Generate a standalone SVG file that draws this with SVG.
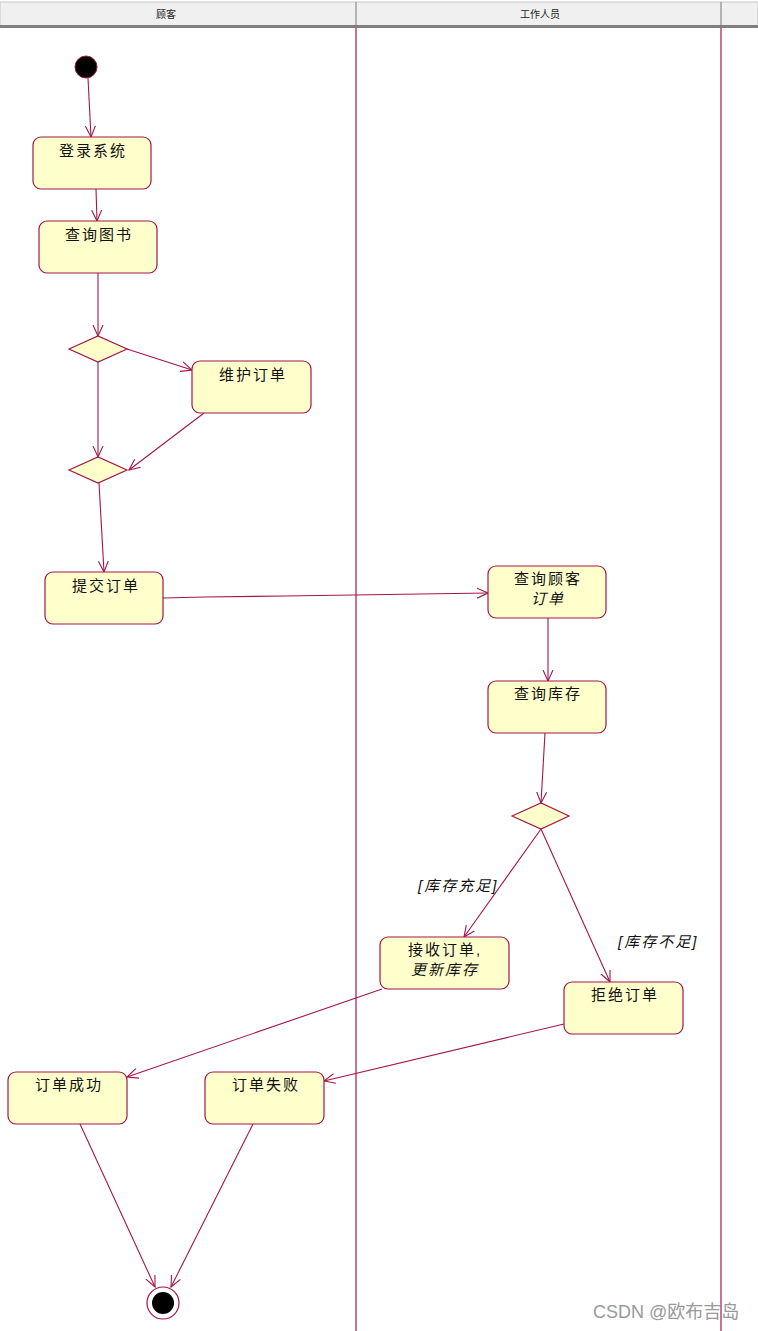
<svg xmlns="http://www.w3.org/2000/svg" width="758" height="1331" viewBox="0 0 758 1331">
<defs>
<style>
.node{fill:#ffffcc;stroke:#a3164a;stroke-width:1.2}
.lane{stroke:#a3164a;stroke-width:1.2;fill:none}
.edge{stroke:#a3164a;stroke-width:1.1;fill:none;marker-end:url(#arr)}
.t{font-family:"Liberation Sans","Noto Sans CJK SC",sans-serif;font-size:15px;fill:#111;text-anchor:middle;letter-spacing:2px}
.i{font-style:italic}
.hdr{font-family:"Noto Sans CJK SC",sans-serif;font-size:10px;fill:#222;text-anchor:middle}
.lbl{font-family:"Liberation Sans","Noto Sans CJK SC",sans-serif;font-size:15px;fill:#111;font-style:italic;letter-spacing:2px}
</style>
<marker id="arr" viewBox="0 0 12 12" refX="11" refY="6" markerWidth="12" markerHeight="12" markerUnits="userSpaceOnUse" orient="auto">
<path d="M0,1 L11,6 L0,11" fill="none" stroke="#a3164a" stroke-width="1.1"/>
</marker>
</defs>
<rect width="758" height="1331" fill="#fff"/>
<g id="header">
<rect x="0" y="2" width="758" height="24" fill="#f0f0f0" stroke="#c8c8c8"/>
<rect x="0" y="25" width="758" height="3" fill="#808080"/>
<line x1="356" y1="2" x2="356" y2="26" stroke="#777"/>
<line x1="721" y1="2" x2="721" y2="26" stroke="#777"/>
<text class="hdr" x="166" y="18">顾客</text>
<text class="hdr" x="540" y="18">工作人员</text>
</g>
<g id="lanes">
<line class="lane" x1="356" y1="28" x2="356" y2="1331"/>
<line class="lane" x1="721" y1="28" x2="721" y2="1331"/>
</g>
<g id="connectors">
<line class="edge" x1="88" y1="78" x2="91" y2="137"/>
<line class="edge" x1="96" y1="189" x2="97" y2="221"/>
<line class="edge" x1="98" y1="273" x2="98" y2="336"/>
<line class="edge" x1="127" y1="349" x2="192" y2="370"/>
<line class="edge" x1="98" y1="362" x2="98" y2="457"/>
<line class="edge" x1="204" y1="413" x2="129" y2="470"/>
<line class="edge" x1="99" y1="483" x2="104" y2="572"/>
<polyline class="edge" points="163,598 205,597 285,596 488,593"/>
<line class="edge" x1="548" y1="618" x2="548" y2="681"/>
<line class="edge" x1="545" y1="733" x2="541" y2="803"/>
<line class="edge" x1="541" y1="829" x2="464" y2="937"/>
<line class="edge" x1="541" y1="829" x2="610" y2="982"/>
<line class="edge" x1="382" y1="989" x2="127" y2="1077"/>
<line class="edge" x1="564" y1="1024" x2="324" y2="1081"/>
<line class="edge" x1="80" y1="1124" x2="155" y2="1287"/>
<line class="edge" x1="253" y1="1124" x2="171" y2="1287"/>
<text class="lbl" x="418" y="891">[库存充足]</text>
<text class="lbl" x="618" y="947">[库存不足]</text>
</g>
<g id="start"><circle cx="86" cy="67" r="11" fill="#000" stroke="#a3164a"/></g>
<g id="n1"><rect class="node" x="33" y="137" width="118" height="52" rx="8"/><text class="t" x="93" y="156">登录系统</text></g>
<g id="n2"><rect class="node" x="39" y="221" width="118" height="52" rx="8"/><text class="t" x="99" y="240">查询图书</text></g>
<g id="d1"><polygon class="node" points="69,349 98,336 127,349 98,362"/></g>
<g id="n3"><rect class="node" x="192" y="361" width="119" height="52" rx="8"/><text class="t" x="253" y="380">维护订单</text></g>
<g id="d2"><polygon class="node" points="69,470 98,457 127,470 98,483"/></g>
<g id="n4"><rect class="node" x="45" y="572" width="118" height="52" rx="8"/><text class="t" x="106" y="591">提交订单</text></g>
<g id="n5"><rect class="node" x="488" y="566" width="118" height="52" rx="8"/><text class="t" x="548" y="584">查询顾客</text><text class="t i" x="548" y="604">订单</text></g>
<g id="n6"><rect class="node" x="488" y="681" width="118" height="52" rx="8"/><text class="t" x="548" y="699">查询库存</text></g>
<g id="d3"><polygon class="node" points="512,816 541,803 569,816 541,829"/></g>
<g id="n7"><rect class="node" x="380" y="937" width="129" height="52" rx="8"/><text class="t" x="445" y="955">接收订单,</text><text class="t i" x="445" y="975">更新库存</text></g>
<g id="n8"><rect class="node" x="564" y="982" width="119" height="52" rx="8"/><text class="t" x="625" y="1000">拒绝订单</text></g>
<g id="n9"><rect class="node" x="8" y="1072" width="119" height="52" rx="8"/><text class="t" x="69" y="1090">订单成功</text></g>
<g id="n10"><rect class="node" x="205" y="1072" width="119" height="52" rx="8"/><text class="t" x="266" y="1090">订单失败</text></g>
<g id="end"><circle cx="163" cy="1303" r="16" fill="#fff" stroke="#a3164a" stroke-width="1.2"/><circle cx="163" cy="1303" r="11" fill="#000"/></g>
<text x="593" y="1318" font-family="Liberation Sans,Noto Sans CJK SC,sans-serif" font-size="18" fill="#999">CSDN @欧布吉岛</text>
</svg>
